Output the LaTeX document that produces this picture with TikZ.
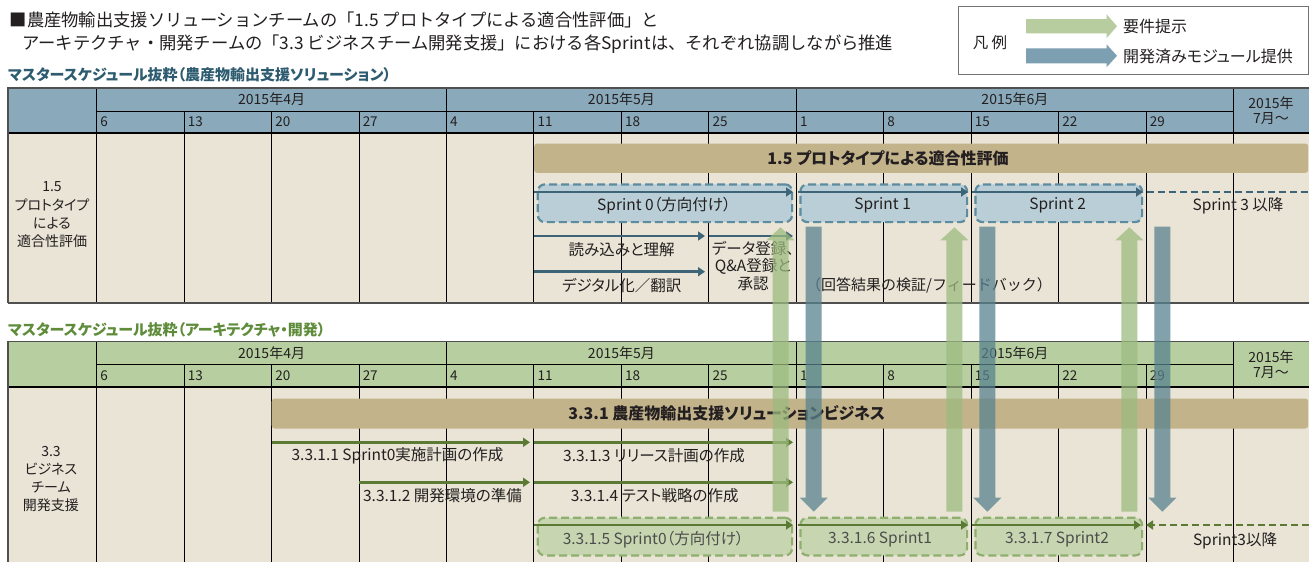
\documentclass[tikz,border=0pt]{standalone}
\usepackage{fontspec}
\setmainfont{Noto Sans CJK JP}[RawFeature=+palt]
\newfontfamily\plainjp{Noto Sans CJK JP}
\usetikzlibrary{arrows.meta,calc}
\definecolor{txt}{HTML}{231F20}
\definecolor{hdrblue}{HTML}{8AAABB}
\definecolor{hdrgreen}{HTML}{B7CFA0}
\definecolor{beige}{HTML}{E9E4D5}
\definecolor{tanc}{HTML}{C3B38B}
\definecolor{sprfill}{HTML}{B9CED6}
\definecolor{sprline}{HTML}{5D8CA1}
\definecolor{darkteal}{HTML}{3D6577}
\definecolor{dkgreen}{HTML}{5B7B34}
\definecolor{gfill}{HTML}{C7D6B0}
\definecolor{gline}{HTML}{8FAF6F}
\definecolor{titleblue}{HTML}{2D5B6F}
\definecolor{titlegreen}{HTML}{5E8C3A}
\definecolor{arrgreen}{HTML}{9CBB7F}
\definecolor{arrblue}{HTML}{58828F}
\definecolor{leggreen}{HTML}{B7CDA0}
\definecolor{legblue}{HTML}{7C9FB2}
\definecolor{bordergray}{HTML}{505050}

\tikzset{
  hdrtxt/.style={font=\fontsize{14}{15.5}\selectfont, text=txt, inner sep=0pt},
  datetxt/.style={font=\fontsize{13.5}{15}\selectfont, text=txt, inner sep=0pt, anchor=west},
  bodytxt/.style={font=\fontsize{15.5}{18}\selectfont, text=txt, inner sep=0pt},
  labtxt/.style={font=\fontsize{14}{18.3}\selectfont, text=txt, inner sep=0pt, align=center},
  bartxt/.style={font=\fontsize{16}{18}\selectfont\bfseries, text=txt, inner sep=0pt},
  boxtxt/.style={font=\fontsize{15.5}{18}\selectfont, text=black!70, inner sep=0pt},
  tanbox/.style={fill=tanc, rounded corners=3pt, inner sep=0pt, anchor=north west},
  sprbox/.style={fill=sprfill, draw=sprline, line width=2.2pt, dash pattern=on 8pt off 4pt, rounded corners=7pt, inner sep=0pt, anchor=north west},
  gbox/.style={fill=gfill, draw=gline, line width=2.2pt, dash pattern=on 8pt off 4pt, rounded corners=7pt, inner sep=0pt, anchor=north west},
  tealarrow/.style={draw=darkteal, line width=2.8pt, -{Triangle[length=7pt,width=9pt]}},
  greenarrow/.style={draw=dkgreen, line width=2.8pt, -{Triangle[length=7pt,width=9pt]}},
  uparr/.style={fill=arrgreen, fill opacity=0.75},
  downarr/.style={fill=arrblue, fill opacity=0.75},
  thinline/.style={line width=1pt, draw=black},
  introtxt/.style={anchor=west, font=\plainjp\fontsize{17.3}{20}\selectfont, text=txt, inner sep=0pt},
  ttl/.style={anchor=west, font=\fontsize{15}{17}\selectfont\bfseries, inner sep=0pt},
  legtxt/.style={anchor=west, font=\fontsize{16}{18}\selectfont, text=txt, inner sep=0pt},
}

% #1 prefix, #2 top y, #3 header colour, #4 bottom y
\newcommand\drawsched[4]{%
  \pgfmathsetmacro\ra{#2+23}%
  \pgfmathsetmacro\rb{#2+45}%
  \fill[#3] (8,#2) rectangle (1309,\rb);
  \fill[beige] (8,\rb) rectangle (1309,#4);
  \draw[thinline] (96.7,\ra) -- (1233.5,\ra);
  \foreach \i/\d in {0/6,1/13,2/20,3/27,4/4,5/11,6/18,7/25,8/1,9/8,10/15,11/22,12/29}{%
    \pgfmathsetmacro\xx{96.7+87.45*\i}%
    \draw[thinline] (\xx,\ra) -- (\xx,#4);
    \node[datetxt] (#1d\i) at (\xx+3.5,\ra+11) {\d};
  }
  \foreach \xx in {96.7,446.5,796.3,1233.5}{\draw[thinline] (\xx,#2) -- (\xx,#4);}
  \node[hdrtxt] (#1m4) at (271.6,#2+11.5) {2015年4月};
  \node[hdrtxt] (#1m5) at (621.4,#2+11.5) {2015年5月};
  \node[hdrtxt] (#1m6) at (1014.9,#2+11.5) {2015年6月};
  \node[hdrtxt, align=center, font=\fontsize{14}{15}\selectfont] (#1m7) at (1271,#2+22.5) {2015年\\7月〜};
  \draw[line width=2pt, black] (8,\rb) -- (1309,\rb);
  \draw[line width=1.5pt, bordergray] (1309,#2) -- (8,#2) -- (8,#4);
}

\begin{document}
\begin{tikzpicture}[x=1pt,y=-1pt]
\useasboundingbox (0,0) rectangle (1309,562);
\fill[white] (0,0) rectangle (1309,562);

% intro text
\node[introtxt] (intro1) at (9.5,20)
  {■農産物輸出支援ソリューションチームの「1.5 プロトタイプによる適合性評価」と};
\node[introtxt] (intro2) at (22,44)
  {アーキテクチャ・開発チームの「3.3 ビジネスチーム開発支援」における各Sprintは、それぞれ協調しながら推進};

% legend
\node[draw=black!55, line width=1pt, minimum width=350, minimum height=68, anchor=north west, inner sep=0pt] (legend) at (957.7,6) {};
\node[font=\fontsize{15.5}{18}\selectfont, text=txt, inner sep=0pt] (legtitle) at (990,43) {凡 例};
\coordinate (lg1) at (1026,26.2);
\coordinate (lg2) at (1026,55.8);
\fill[leggreen] ($(lg1)+(0,-7.2)$) -- ($(lg1)+(80.5,-7.2)$) -- ($(lg1)+(80.5,-12)$) -- ($(lg1)+(91,0)$) -- ($(lg1)+(80.5,12)$) -- ($(lg1)+(80.5,7.2)$) -- ($(lg1)+(0,7.2)$) -- cycle;
\fill[legblue] ($(lg2)+(0,-7.5)$) -- ($(lg2)+(80.5,-7.5)$) -- ($(lg2)+(80.5,-11.5)$) -- ($(lg2)+(91,0)$) -- ($(lg2)+(80.5,11.5)$) -- ($(lg2)+(80.5,7.5)$) -- ($(lg2)+(0,7.5)$) -- cycle;
\node[legtxt] (legt1) at (1123,26) {要件提示};
\node[legtxt] (legt2) at (1123,56) {開発済みモジュール提供};

% ============ upper schedule ============
\node[ttl, text=titleblue] (title1) at (8,75)
  {マスタースケジュール抜粋（農産物輸出支援ソリューション）};
\drawsched{u}{88}{hdrblue}{303}
\draw[line width=1.5pt, bordergray] (8,303) -- (1309,303);
\node[labtxt] (ulab) at (52,215) {1.5\\プロトタイプ\\による\\適合性評価};

\node[tanbox, minimum width=774, minimum height=29.4] (barA) at (534,143.3) {};
\node[bartxt] (barAt) at (888,158) {1.5 プロトタイプによる適合性評価};

\node[sprbox, minimum width=254.3, minimum height=37.7] (s0) at (536.7,183.3) {};
\node[sprbox, minimum width=166.7, minimum height=37.7] (s1) at (799.3,183.3) {};
\node[sprbox, minimum width=166.7, minimum height=37.7] (s2) at (974.3,183.3) {};
\node[bodytxt] (s0t) at (664,205.5) {Sprint 0（方向付け）};
\node[bodytxt] (s1t) at (882.6,205.5) {Sprint 1};
\node[bodytxt] (s2t) at (1057.6,205.5) {Sprint 2};
\node[bodytxt] (s3t) at (1238,205.5) {Sprint 3 以降};

\coordinate (a0s) at (534,192); \coordinate (a0e) at (793,192);
\coordinate (a1s) at (797.5,192); \coordinate (a1e) at (968,192);
\coordinate (a2s) at (972,192); \coordinate (a2e) at (1143,192);
\coordinate (a3s) at (1146.5,192); \coordinate (a3e) at (1309,192);
\draw[tealarrow] (a0s) -- (a0e);
\draw[tealarrow] (a1s) -- (a1e);
\draw[tealarrow] (a2s) -- (a2e);
\draw[draw=darkteal, line width=2.5pt, dash pattern=on 7pt off 4pt] (a3s) -- (a3e);

\coordinate (r1s) at (534,236); \coordinate (r1e) at (705,236);
\coordinate (r2s) at (709,236); \coordinate (r2e) at (793,236);
\coordinate (r3s) at (534,271.7); \coordinate (r3e) at (705,271.7);
\draw[tealarrow] (r1s) -- (r1e);
\draw[tealarrow] (r2s) -- (r2e);
\draw[tealarrow] (r3s) -- (r3e);
\node[bodytxt] (r1t) at (621.7,249.5) {読み込みと理解};
\node[bodytxt] (r3t) at (621.7,285.5) {デジタル化／翻訳};
\node[bodytxt, align=center, font=\fontsize{15.5}{17.5}\selectfont] (r2t) at (753,266) {データ登録、\\Q\&A登録と\\承認};
\node[bodytxt, font=\plainjp\fontsize{15}{18}\selectfont] (fbt) at (929,285.5) {（回答結果の検証/フィードバック）};

% ============ lower schedule ============
\node[ttl, text=titlegreen] (title2) at (8,330)
  {マスタースケジュール抜粋（アーキテクチャ・開発）};
\drawsched{l}{341.7}{hdrgreen}{562}
\node[labtxt] (llab) at (51,479) {3.3\\ビジネス\\チーム\\開発支援};

\node[tanbox, minimum width=1036.5, minimum height=30] (barB) at (271.5,398.3) {};
\node[bartxt] (barBt) at (726.7,413.5) {3.3.1 農産物輸出支援ソリューションビジネス};

\coordinate (p1s) at (271.6,442.3); \coordinate (p1e) at (530,442.3);
\coordinate (p3s) at (534,442.3); \coordinate (p3e) at (793,442.3);
\coordinate (p2s) at (359,482.3); \coordinate (p2e) at (530,482.3);
\coordinate (p4s) at (534,482.3); \coordinate (p4e) at (793,482.3);
\draw[greenarrow] (p1s) -- (p1e);
\draw[greenarrow] (p3s) -- (p3e);
\draw[greenarrow] (p2s) -- (p2e);
\draw[greenarrow] (p4s) -- (p4e);
\node[bodytxt] (p1t) at (397.5,456) {3.3.1.1 Sprint0実施計画の作成};
\node[bodytxt] (p3t) at (654,456) {3.3.1.3 リリース計画の作成};
\node[bodytxt] (p2t) at (442.5,496) {3.3.1.2 開発環境の準備};
\node[bodytxt] (p4t) at (654.7,496) {3.3.1.4 テスト戦略の作成};

\node[gbox, minimum width=254.3, minimum height=37.6] (g0) at (536.7,516.7) {};
\node[gbox, minimum width=166.7, minimum height=37.6] (g1) at (799.3,516.7) {};
\node[gbox, minimum width=166.7, minimum height=37.6] (g2) at (974.3,516.7) {};
\node[boxtxt] (g0t) at (653.3,539.5) {3.3.1.5 Sprint0（方向付け）};
\node[boxtxt] (g1t) at (880,539.5) {3.3.1.6 Sprint1};
\node[boxtxt] (g2t) at (1057,539.5) {3.3.1.7 Sprint2};
\node[bodytxt] (g3t) at (1235,541) {Sprint3以降};

\coordinate (b0s) at (534,525); \coordinate (b0e) at (793,525);
\coordinate (b1s) at (797.5,525); \coordinate (b1e) at (968,525);
\coordinate (b2s) at (972,525); \coordinate (b2e) at (1141,525);
\coordinate (b3s) at (1309,525); \coordinate (b3e) at (1146,525);
\draw[greenarrow] (b0s) -- (b0e);
\draw[greenarrow] (b1s) -- (b1e);
\draw[greenarrow] (b2s) -- (b2e);
\draw[draw=dkgreen, line width=2.5pt, dash pattern=on 7pt off 4pt, -{Triangle[length=7pt,width=9pt]}] (b3s) -- (b3e);

% ============ vertical block arrows ============
\foreach \n/\xx in {1/780.5,2/954.4,3/1129.4}{
  \coordinate (gt\n) at (\xx,227.3);
  \coordinate (gb\n) at (\xx,511.7);
  \fill[uparr] ($(gb\n)+(-8,0)$) -- ($(gt\n)+(-8,13)$) -- ($(gt\n)+(-14,13)$) -- (gt\n)
     -- ($(gt\n)+(14,13)$) -- ($(gt\n)+(8,13)$) -- ($(gb\n)+(8,0)$) -- cycle;
}
\foreach \n/\xx in {1/813.7,2/987.4,3/1162.4}{
  \coordinate (bt\n) at (\xx,226.7);
  \coordinate (bb\n) at (\xx,511.7);
  \fill[downarr] ($(bt\n)+(-8,0)$) -- ($(bb\n)+(-8,-14)$) -- ($(bb\n)+(-14,-14)$) -- (bb\n)
     -- ($(bb\n)+(14,-14)$) -- ($(bb\n)+(8,-14)$) -- ($(bt\n)+(8,0)$) -- cycle;
}
\end{tikzpicture}
\end{document}
